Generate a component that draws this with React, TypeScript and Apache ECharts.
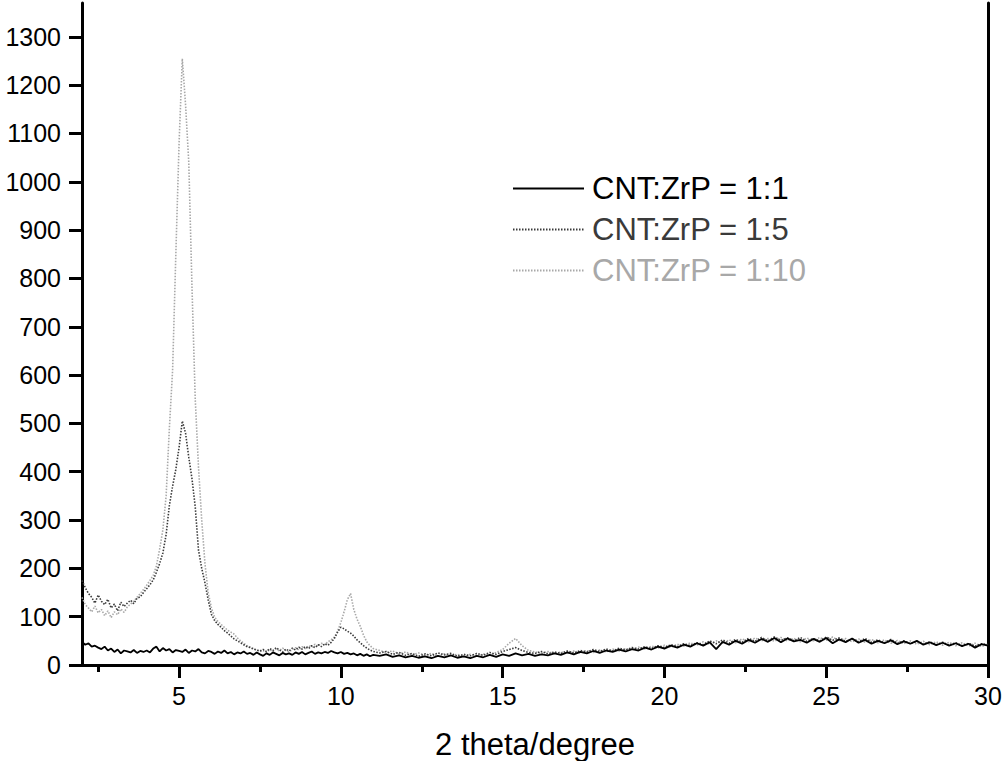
import React, { useEffect, useRef } from "react";
import * as echarts from "echarts";

// 2-theta positions (degrees)
const twoTheta = [
  2, 2.1, 2.2, 2.3, 2.4, 2.5, 2.6, 2.7, 2.8, 2.9,
  3, 3.1, 3.2, 3.3, 3.4, 3.5, 3.6, 3.7, 3.8, 3.9,
  4, 4.1, 4.2, 4.3, 4.4, 4.5, 4.6, 4.7, 4.8, 4.9,
  5, 5.1, 5.2, 5.3, 5.4, 5.5, 5.6, 5.7, 5.8, 5.9,
  6, 6.1, 6.2, 6.3, 6.4, 6.5, 6.6, 6.7, 6.8, 6.9,
  7, 7.1, 7.2, 7.3, 7.4, 7.5, 7.6, 7.7, 7.8, 7.9,
  8, 8.1, 8.2, 8.3, 8.4, 8.5, 8.6, 8.7, 8.8, 8.9,
  9, 9.1, 9.2, 9.3, 9.4, 9.5, 9.6, 9.7, 9.8, 9.9,
  10, 10.1, 10.2, 10.3, 10.4, 10.5, 10.6, 10.7, 10.8, 10.9,
  11,
  11.2, 11.4, 11.6, 11.8, 12, 12.2, 12.4, 12.6, 12.8, 13,
  13.2, 13.4, 13.6, 13.8, 14, 14.2, 14.4, 14.6, 14.8, 15,
  15.2, 15.4, 15.6, 15.8, 16, 16.2, 16.4, 16.6, 16.8, 17,
  17.2, 17.4, 17.6, 17.8, 18, 18.2, 18.4, 18.6, 18.8, 19,
  19.2, 19.4, 19.6, 19.8, 20, 20.2, 20.4, 20.6, 20.8, 21,
  21.2, 21.4, 21.6, 21.8, 22, 22.2, 22.4, 22.6, 22.8, 23,
  23.2, 23.4, 23.6, 23.8, 24, 24.2, 24.4, 24.6, 24.8, 25,
  25.2, 25.4, 25.6, 25.8, 26, 26.2, 26.4, 26.6, 26.8, 27,
  27.2, 27.4, 27.6, 27.8, 28, 28.2, 28.4, 28.6, 28.8, 29,
  29.2, 29.4, 29.6, 29.8, 30,
];

// CNT:ZrP = 1:1
const ratio1to1 = [
  48, 42, 45, 38, 40, 36, 33, 38, 30, 34,
  27, 32, 24, 30, 28, 26, 31, 25, 29, 27,
  30, 26, 34, 38, 28, 35, 30, 33, 26, 31,
  29, 27, 32, 25, 30, 28, 33, 26, 24, 29,
  27, 23, 28, 25, 30, 24, 27, 22, 26, 24,
  28, 23, 25, 21, 26, 22, 19, 24, 21, 26,
  23, 20, 25, 22, 24, 21, 26, 23, 27, 22,
  25, 28, 23, 26, 24, 27, 25, 29, 26, 24,
  27, 23, 25, 22, 24, 20, 23, 19, 22, 18,
  21,
  19, 22, 17, 20, 16, 19, 15, 18, 14, 19,
  16, 20, 15, 18, 14, 19, 16, 21, 17, 22,
  19, 24, 20, 23, 19, 22, 20, 24, 21, 26,
  22, 27, 24, 29, 25, 30, 27, 32, 28, 33,
  30, 36, 32, 38, 34, 40, 36, 42, 38, 45,
  40, 47, 33, 48, 42, 50, 44, 52, 46, 54,
  48, 56, 47, 55, 49, 52, 46, 54, 48, 56,
  45, 53, 47, 55, 46, 52, 44, 50, 45, 51,
  43, 49, 44, 50, 42, 47, 41, 46, 40, 45,
  39, 44, 36, 43, 40,
];

// CNT:ZrP = 1:5
const ratio1to5 = [
  175, 160, 148, 140, 128, 145, 132, 125, 136, 118,
  126, 112, 130, 121, 128, 134, 127, 138, 141, 150,
  158, 166, 176, 192, 210, 232, 270, 330, 370, 405,
  450, 505, 480, 430, 385, 327, 238, 200, 170, 135,
  105, 92, 84, 78, 71, 66, 60, 54, 50, 46,
  42, 38, 36, 33, 31, 29, 32, 28, 34, 30,
  36, 31, 27, 33, 29, 35, 31, 37, 33, 38,
  34, 40, 36, 42, 38, 44, 41, 47, 55, 68,
  78, 75, 70, 66, 60, 52, 46, 40, 35, 31,
  28,
  25, 28, 22, 26, 20, 24, 18, 23, 19, 25,
  21, 24, 18, 22, 19, 24, 20, 26, 22, 28,
  32, 36, 30, 26, 24, 28, 23, 27, 24, 29,
  25, 30, 27, 32, 28, 33, 29, 35, 31, 36,
  33, 38, 34, 40, 36, 42, 38, 44, 40, 46,
  42, 50, 44, 52, 45, 53, 47, 55, 49, 57,
  50, 58, 51, 56, 50, 57, 49, 55, 50, 58,
  51, 56, 49, 54, 48, 55, 47, 52, 46, 53,
  45, 50, 44, 49, 43, 48, 42, 47, 41, 46,
  40, 45, 39, 44, 42,
];

// CNT:ZrP = 1:10
const ratio1to10 = [
  140, 125, 118, 110, 122, 108, 115, 102, 112, 98,
  110, 104, 116, 109, 120, 126, 132, 140, 148, 156,
  165, 175, 185, 205, 240, 280, 350, 490, 610, 850,
  1080, 1255, 1160, 1040, 780, 550, 410, 300, 210, 150,
  118, 99, 90, 84, 78, 72, 68, 64, 56, 50,
  45, 40, 37, 34, 31, 28, 30, 26, 32, 28,
  33, 29, 35, 30, 27, 32, 36, 31, 38, 34,
  40, 37, 43, 39, 45, 42, 48, 52, 58, 70,
  88, 110, 135, 148, 115, 95, 80, 62, 48, 40,
  34,
  30, 26, 29, 23, 27, 21, 25, 20, 24, 18,
  23, 19, 22, 17, 22, 18, 23, 20, 26, 32,
  45, 55, 40, 30, 27, 24, 28, 23, 27, 24,
  29, 25, 30, 26, 31, 27, 33, 29, 34, 31,
  37, 33, 39, 35, 41, 37, 43, 39, 46, 41,
  48, 43, 50, 45, 52, 46, 54, 48, 56, 50,
  55, 49, 57, 50, 55, 48, 56, 50, 57, 51,
  58, 50, 55, 48, 54, 47, 53, 46, 52, 45,
  51, 44, 50, 43, 49, 42, 48, 41, 47, 40,
  46, 39, 45, 38, 44,
];

const seriesNames = ["CNT:ZrP = 1:1", "CNT:ZrP = 1:5", "CNT:ZrP = 1:10"];
const seriesColors = ["#000000", "#3a3a3a", "#a8a8a8"];
const yTicks = [0, 100, 200, 300, 400, 500, 600, 700, 800, 900, 1000, 1100, 1200, 1300];
const xMajorTicks = [5, 10, 15, 20, 25, 30];
const xMinorTicks = [2.5, 7.5, 12.5, 17.5, 22.5, 27.5];
const xName = "2 theta/degree";

export default function App() {
  const ref = useRef<HTMLDivElement>(null);
  useEffect(() => {
    if (!ref.current) return;
    const chart = echarts.init(ref.current, null, { renderer: "svg" });
    const font = "'Liberation Sans', Arial, Helvetica, sans-serif";
    const axisColor = "#000";
    const toPairs = (ys: number[]) => twoTheta.map((x, i) => [x, ys[i]]);
    chart.setOption({
      animation: false,
      backgroundColor: "#ffffff",
      grid: { left: 82, right: 17, top: 3, bottom: 96, containLabel: false, outerBoundsMode: "none" },
      legend: {
        orient: "vertical",
        left: 512,
        top: 173,
        padding: 0,
        itemWidth: 71,
        itemHeight: 24,
        itemGap: 10,
        itemStyle: { opacity: 0, borderWidth: 0 },
        textStyle: { fontSize: 31, fontFamily: font, color: "#000", padding: [0, 0, 0, 3] },
        data: seriesNames.map((n, i) => ({ name: n, textStyle: { color: seriesColors[i] } })),
      },
      xAxis: [
        {
          type: "value",
          min: 2,
          max: 30,
          position: "bottom",
          name: xName,
          nameLocation: "middle",
          nameGap: 64,
          nameTextStyle: { fontSize: 31, fontFamily: font, color: "#000" },
          axisLine: { show: true, onZero: false, lineStyle: { color: axisColor, width: 3 } },
          axisTick: { show: true, length: 13, customValues: xMajorTicks, lineStyle: { color: axisColor, width: 3 } },
          axisLabel: { customValues: xMajorTicks, fontSize: 25, fontFamily: font, color: "#000", margin: 18, formatter: (v: number) => String(v) },
          splitLine: { show: false },
        },
        {
          type: "value",
          min: 2,
          max: 30,
          position: "bottom",
          axisLine: { show: false, onZero: false },
          axisTick: { show: true, length: 7, customValues: xMinorTicks, lineStyle: { color: axisColor, width: 3 } },
          axisLabel: { show: false },
          splitLine: { show: false },
        },
      ],
      yAxis: [
        {
          type: "value",
          min: 0,
          max: 1370,
          position: "left",
          axisLine: { show: true, onZero: false, lineStyle: { color: axisColor, width: 3 } },
          axisTick: { show: true, length: 13, customValues: yTicks, lineStyle: { color: axisColor, width: 3 } },
          axisLabel: { customValues: yTicks, fontSize: 25, fontFamily: font, color: "#000", margin: 21, formatter: (v: number) => String(v) },
          splitLine: { show: false },
        },
        {
          type: "value",
          min: 0,
          max: 1370,
          position: "right",
          axisLine: { show: true, onZero: false, lineStyle: { color: axisColor, width: 3 } },
          axisTick: { show: false },
          axisLabel: { show: false },
          splitLine: { show: false },
        },
      ],
      series: [
        {
          name: seriesNames[0],
          type: "line",
          xAxisIndex: 0,
          yAxisIndex: 0,
          symbol: "none",
          showSymbol: false,
          z: 5,
          lineStyle: { color: seriesColors[0], width: 1.8, type: "solid" },
          itemStyle: { color: seriesColors[0] },
          data: toPairs(ratio1to1),
        },
        {
          name: seriesNames[1],
          type: "line",
          xAxisIndex: 0,
          yAxisIndex: 0,
          symbol: "none",
          showSymbol: false,
          z: 4,
          lineStyle: { color: seriesColors[1], width: 1.6, type: [1.5, 1.5] },
          itemStyle: { color: seriesColors[1] },
          data: toPairs(ratio1to5),
        },
        {
          name: seriesNames[2],
          type: "line",
          xAxisIndex: 0,
          yAxisIndex: 0,
          symbol: "none",
          showSymbol: false,
          z: 3,
          lineStyle: { color: seriesColors[2], width: 1.6, type: [1.5, 1.5] },
          itemStyle: { color: seriesColors[2] },
          data: toPairs(ratio1to10),
        },
      ],
    });
    return () => chart.dispose();
  }, []);
  return (
    <div
      ref={ref}
      style={{ position: "fixed", left: 0, top: 0, width: 1005, height: 761, background: "#fff" }}
    />
  );
}
